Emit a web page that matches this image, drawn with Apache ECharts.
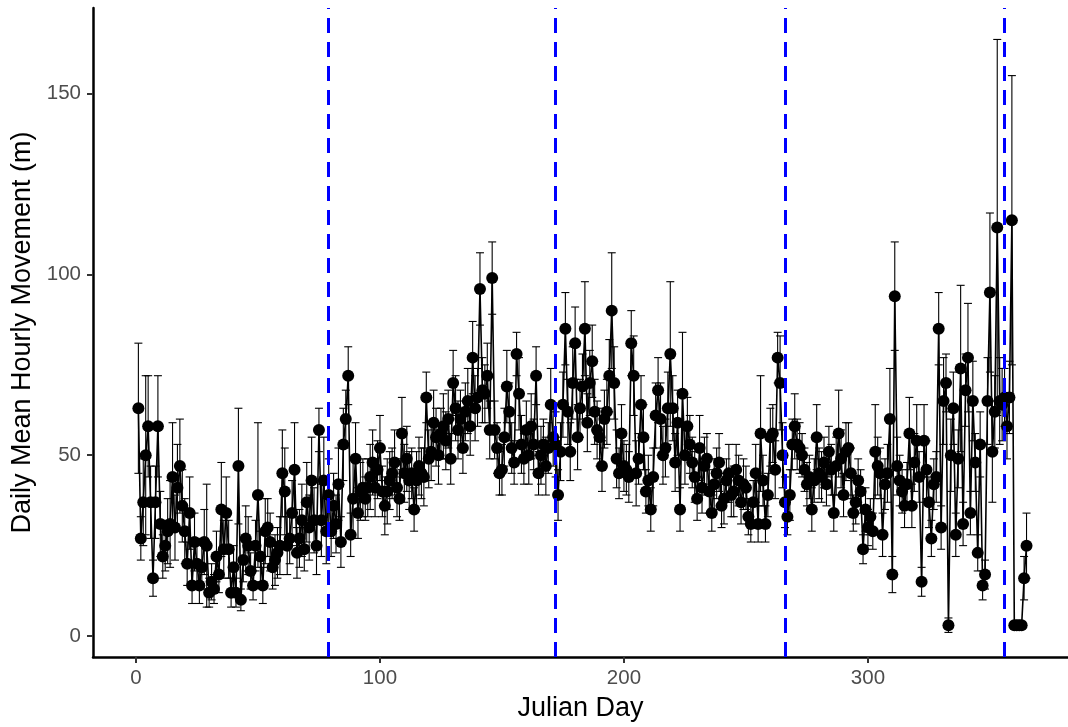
<!DOCTYPE html>
<html>
<head>
<meta charset="utf-8">
<title>Daily Mean Hourly Movement</title>
<script src="https://cdn.jsdelivr.net/npm/echarts@6/dist/echarts.min.js"></script>
<style>
  html, body { margin: 0; padding: 0; background: #ffffff; }
  #chart { width: 1068px; height: 727px; }
</style>
</head>
<body>
<div id="chart"></div>
<script>
// Daily mean hourly movement (m), one value per Julian day starting at day 1
const meanMovement = [
  63, 27, 37, 50, 58, 37, 16, 37, 58, 31,
  22, 25, 29, 31, 44, 30, 41, 47, 36, 29,
  20, 34, 14, 26, 20, 14, 19, 26, 25, 12,
  15, 13, 22, 17, 35, 24, 34, 24, 12, 19,
  12, 47, 10, 21, 27, 25, 18, 14, 25, 39,
  22, 14, 29, 30, 26, 19, 21, 23, 25, 45,
  40, 25, 27, 34, 46, 23, 27, 32, 24, 37,
  30, 43, 32, 25, 57, 32, 43, 29, 39, 29,
  36, 31, 42, 26, 53, 60, 72, 28, 38, 49,
  34, 40, 41, 38, 41, 44, 48, 41, 46, 52,
  40, 36, 40, 43, 45, 48, 41, 38, 56, 45,
  49, 43, 45, 35, 43, 47, 45, 44, 66, 49,
  51, 59, 55, 50, 56, 58, 54, 60, 49, 70,
  63, 57, 60, 52, 62, 65, 58, 77, 63, 66,
  96, 68, 67, 72, 57, 99, 57, 52, 45, 46,
  55, 69, 62, 52, 48, 78, 67, 53, 49, 57,
  50, 58, 53, 72, 45, 50, 53, 47, 52, 64,
  55, 53, 39, 51, 64, 85, 62, 51, 70, 81,
  55, 63, 69, 85, 59, 70, 76, 62, 57, 55,
  47, 60, 62, 72, 90, 70, 49, 45, 56, 47,
  46, 44, 81, 72, 45, 49, 64, 55, 40, 43,
  35, 44, 61, 68, 60, 50, 52, 63, 78, 63,
  48, 59, 35, 67, 50, 58, 53, 48, 44, 38,
  52, 41, 47, 49, 40, 34, 42, 45, 48, 36,
  38, 43, 45, 39, 40, 46, 43, 37, 42, 41,
  33, 31, 37, 45, 31, 56, 43, 31, 39, 55,
  56, 46, 77, 70, 50, 37, 33, 39, 53, 58,
  53, 52, 50, 46, 42, 44, 35, 43, 55, 45,
  44, 48, 42, 51, 46, 34, 47, 56, 49, 39,
  51, 52, 45, 34, 37, 43, 40, 24, 35, 30,
  33, 29, 51, 47, 45, 28, 42, 45, 60, 17,
  94, 47, 43, 40, 36, 42, 56, 36, 48, 54,
  44, 15, 54, 46, 37, 27, 42, 44, 85, 30,
  65, 70, 3, 50, 63, 28, 49, 74, 31, 68,
  77, 34, 65, 48, 23, 53, 14, 17, 65, 95,
  51, 62, 113, 65, 64, 66, 58, 66, 115, 3,
  3, 3, 3, 16, 25
];

// Standard error of each daily mean (m)
const stdError = [
  18, 6, 12, 22, 14, 10, 5, 10, 14, 9,
  6, 7, 9, 12, 15, 9, 12, 13, 10, 9,
  6, 10, 5, 8, 7, 5, 6, 9, 17, 4,
  5, 4, 7, 5, 13, 8, 10, 8, 4, 6,
  4, 16, 3, 6, 9, 8, 5, 4, 7, 20,
  7, 5, 9, 8, 8, 6, 7, 7, 8, 12,
  12, 8, 7, 9, 13, 7, 8, 10, 6, 11,
  9, 12, 9, 8, 6, 10, 12, 9, 10, 7,
  9, 8, 10, 7, 10, 8, 8, 6, 11, 10,
  7, 8, 8, 6, 8, 9, 9, 8, 8, 9,
  7, 8, 9, 8, 7, 9, 8, 6, 10, 8,
  9, 8, 7, 6, 8, 8, 7, 8, 7, 8,
  8, 9, 8, 8, 7, 9, 8, 8, 7, 9,
  9, 8, 8, 7, 8, 9, 8, 10, 9, 8,
  10, 9, 8, 9, 8, 10, 8, 7, 6, 7,
  8, 10, 8, 7, 6, 6, 10, 8, 7, 8,
  8, 9, 7, 8, 6, 8, 7, 8, 7, 10,
  8, 9, 7, 8, 9, 10, 9, 8, 10, 10,
  9, 8, 9, 13, 8, 9, 10, 9, 8, 8,
  7, 8, 9, 10, 16, 10, 8, 7, 8, 7,
  7, 7, 9, 11, 9, 7, 8, 9, 6, 7,
  6, 8, 9, 9, 10, 8, 8, 10, 20, 9,
  8, 9, 6, 17, 8, 8, 8, 7, 7, 6,
  9, 7, 8, 7, 6, 5, 7, 7, 8, 6,
  7, 6, 8, 6, 7, 7, 7, 6, 7, 6,
  5, 5, 6, 8, 5, 16, 7, 5, 6, 8,
  8, 8, 7, 13, 9, 7, 5, 7, 7, 9,
  7, 7, 6, 6, 6, 6, 6, 6, 9, 7,
  7, 7, 6, 7, 7, 5, 8, 12, 8, 6,
  8, 7, 7, 5, 6, 6, 6, 4, 6, 5,
  5, 5, 13, 8, 7, 6, 7, 8, 14, 5,
  15, 8, 7, 6, 6, 6, 10, 6, 8, 10,
  7, 4, 10, 8, 7, 5, 7, 7, 10, 6,
  12, 8, 2, 10, 10, 6, 8, 23, 6, 10,
  15, 6, 11, 8, 5, 9, 4, 4, 12, 22,
  14, 10, 52, 12, 10, 8, 9, 10, 40, 1,
  1, 1, 1, 6, 9
];

// Equinoxes and solstices (Julian day)
const seasonDays = [79, 172, 266, 356];

// Axis tick values
const xTicks = [0, 100, 200, 300];
const yTicks = [0, 50, 100, 150];

const FONT = '"Liberation Sans", Arial, Helvetica, sans-serif';

const points = meanMovement.map((v, i) => [i + 1, v]);
const bars = meanMovement.map((v, i) => [i + 1, v - stdError[i], v + stdError[i]]);

// Vertical whisker with a short cap at each end
function renderErrorBar(params, api) {
  const x = api.value(0);
  const top = api.coord([x, api.value(2)]);
  const bottom = api.coord([x, api.value(1)]);
  const half = 4;
  const style = { stroke: '#000000', lineWidth: 1.1 };
  return {
    type: 'group',
    children: [
      { type: 'line', shape: { x1: top[0], y1: top[1], x2: bottom[0], y2: bottom[1] }, style },
      { type: 'line', shape: { x1: top[0] - half, y1: top[1], x2: top[0] + half, y2: top[1] }, style },
      { type: 'line', shape: { x1: bottom[0] - half, y1: bottom[1], x2: bottom[0] + half, y2: bottom[1] }, style }
    ]
  };
}

const chart = echarts.init(document.getElementById('chart'), null, { renderer: 'canvas' });

chart.setOption({
  animation: false,
  backgroundColor: '#ffffff',
  grid: { left: 93, right: 0, top: 8, bottom: 68, containLabel: false },
  xAxis: {
    type: 'value',
    min: -17.6,
    max: 382,
    name: 'Julian Day',
    nameLocation: 'middle',
    nameGap: 38,
    nameTextStyle: { fontFamily: FONT, fontSize: 27, color: '#000000' },
    axisLine: { show: true, onZero: false, lineStyle: { color: '#000000', width: 2.5 } },
    axisTick: { show: true, length: 6, customValues: xTicks, lineStyle: { color: '#333333', width: 2 } },
    axisLabel: { customValues: xTicks, fontFamily: FONT, fontSize: 20.5, color: '#4d4d4d', margin: 11 },
    splitLine: { show: false }
  },
  yAxis: {
    type: 'value',
    min: -5.8,
    max: 173.7,
    name: 'Daily Mean Hourly Movement (m)',
    nameLocation: 'middle',
    nameGap: 57,
    nameTextStyle: { fontFamily: FONT, fontSize: 27, color: '#000000' },
    axisLine: { show: true, onZero: false, lineStyle: { color: '#000000', width: 2.5 } },
    axisTick: { show: true, length: 6, customValues: yTicks, lineStyle: { color: '#333333', width: 2 } },
    axisLabel: { customValues: yTicks, fontFamily: FONT, fontSize: 20.5, color: '#4d4d4d', margin: 12 },
    splitLine: { show: false }
  },
  series: [
    {
      type: 'line',
      data: points,
      showSymbol: false,
      lineStyle: { color: '#000000', width: 1.6 },
      z: 2,
      silent: true
    },
    {
      type: 'custom',
      data: bars,
      renderItem: renderErrorBar,
      encode: { x: 0, y: [1, 2] },
      z: 3,
      silent: true
    },
    {
      type: 'scatter',
      data: points,
      symbol: 'circle',
      symbolSize: 12,
      itemStyle: { color: '#000000', opacity: 1 },
      z: 4,
      silent: true
    },
    {
      type: 'line',
      data: [],
      z: 5,
      markLine: {
        silent: true,
        symbol: ['none', 'none'],
        label: { show: false },
        lineStyle: { color: '#0000ff', width: 3, type: [15, 9] },
        data: seasonDays.map(d => ({ xAxis: d }))
      }
    }
  ]
});
</script>
</body>
</html>
